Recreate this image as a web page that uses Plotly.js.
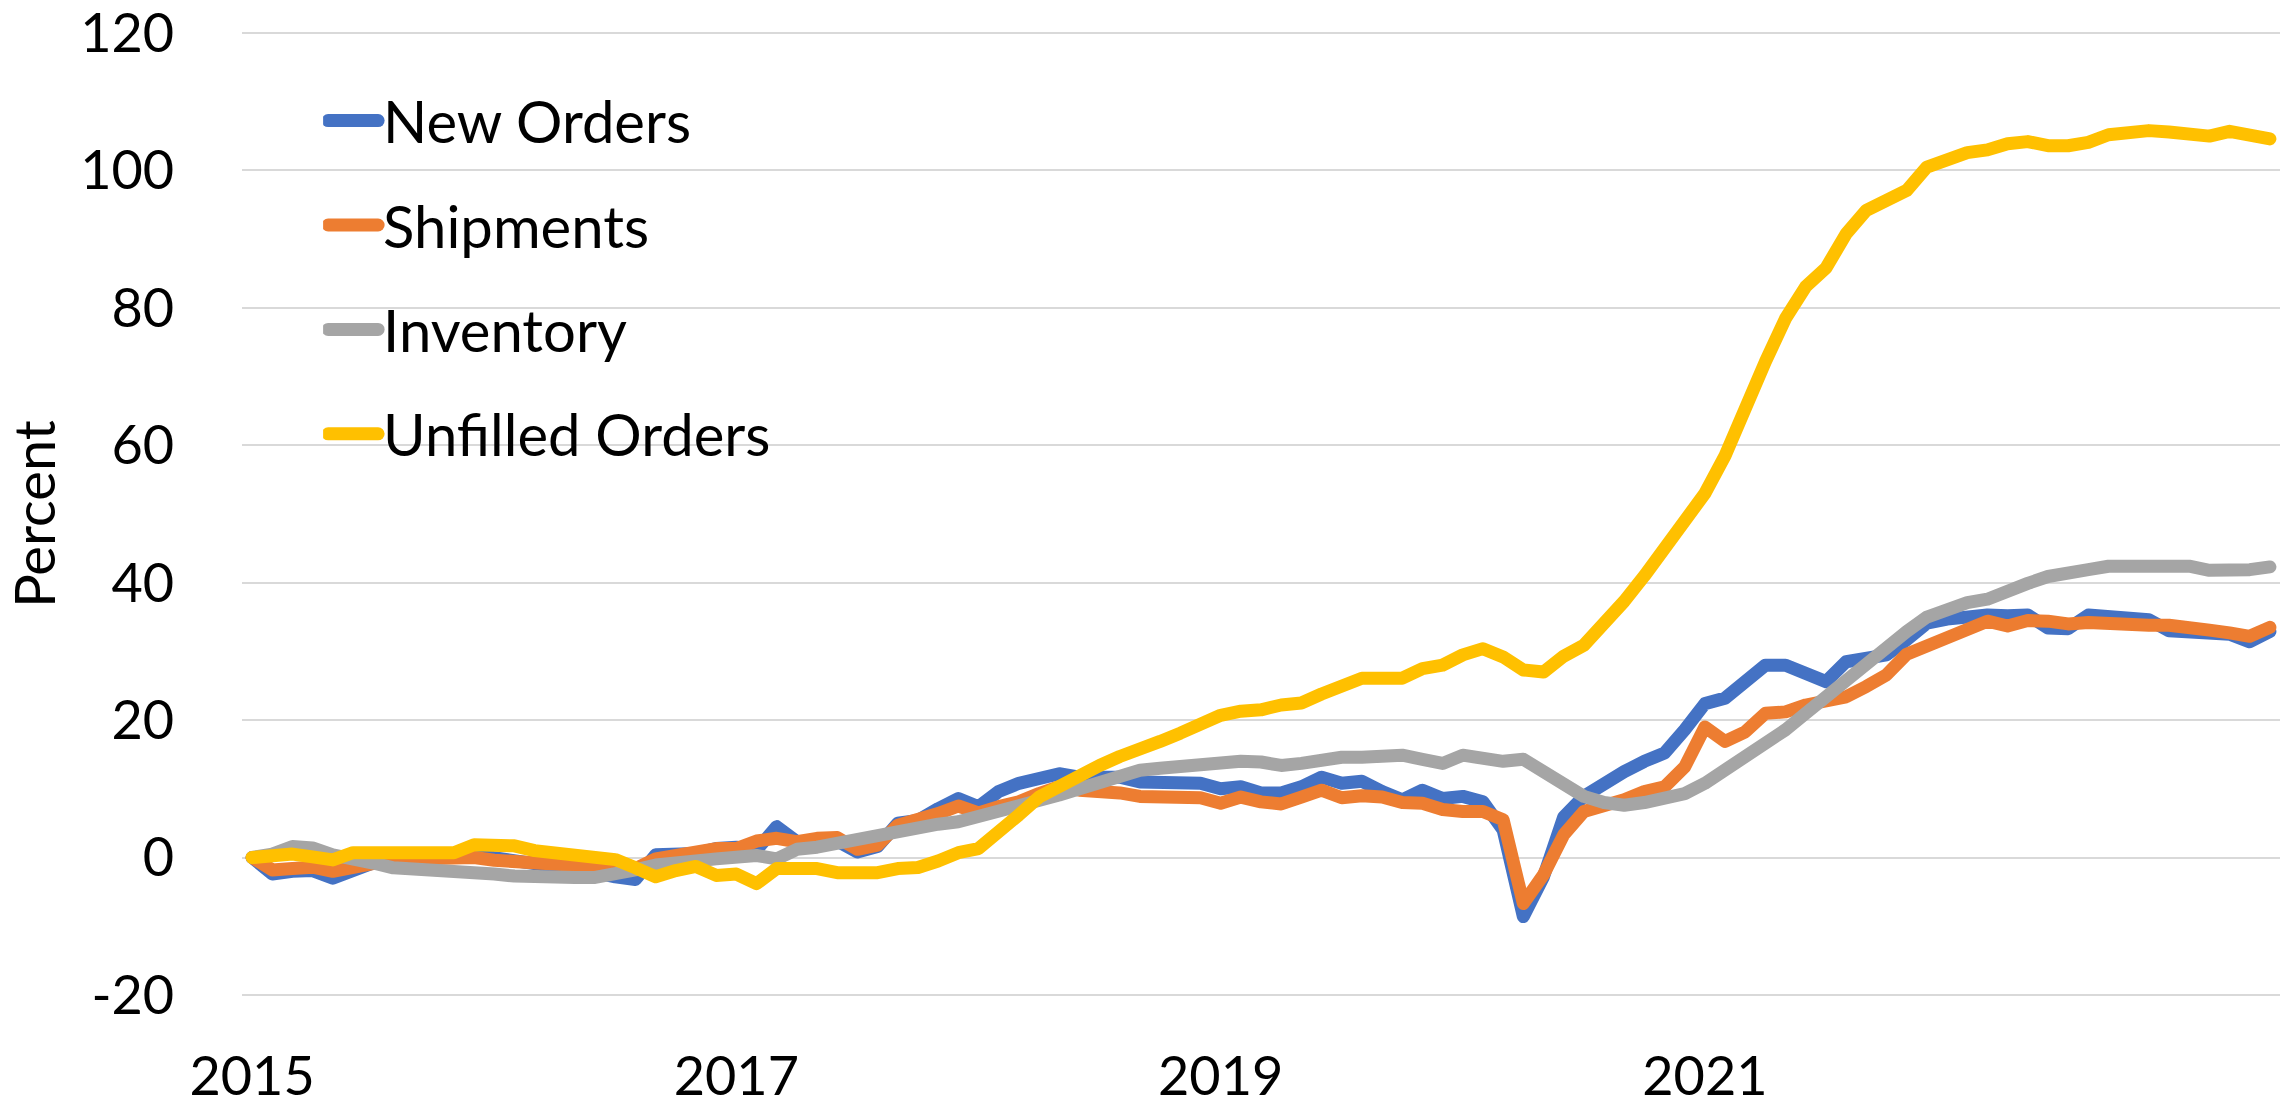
<!DOCTYPE html>
<html>
<head>
<meta charset="utf-8">
<script src="https://cdn.plot.ly/plotly-3.0.1.min.js"></script>
<style>
  html, body { margin: 0; padding: 0; background: #fff; }
  #chart { width: 2280px; height: 1106px; }
  .scatterlayer .js-line { stroke-linejoin: round; stroke-linecap: round; }
  .legend .js-line { stroke-width: 13px !important; stroke-linecap: round; }
</style>
</head>
<body>
<div id="chart"></div>
<script>
// Monthly categories: January 2015 through May 2023
const startYear = 2015;
const monthCount = 101;

const newOrders = [
  0, -2.4, -2.0, -1.9, -3.0, -1.8, -0.8, -0.5, -0.4, -0.2,
  0.2, 0.4, 0.0, -0.3, -0.6, -1.0, -1.6, -2.2, -2.8, -3.2,
  0.4, 0.6, 0.6, 1.3, 1.5, 1.1, 4.5, 2.3, 2.5, 2.4,
  0.8, 1.6, 5.0, 5.4, 7.1, 8.6, 7.4, 9.6, 10.8, 11.6,
  12.2, 11.7, 11.5, 11.7, 11.0, 11.0, 10.8, 10.8, 10.0, 10.3,
  9.4, 9.4, 10.3, 11.7, 10.8, 11.1, 9.6, 8.4, 9.8, 8.6,
  8.9, 8.1, 4.0, -8.6, -2.8, 5.9, 8.9, 10.8, 12.5, 14.0,
  15.2, 18.6, 22.4, 23.2, 25.6, 28.0, 28.0, 26.8, 25.6, 28.5,
  29.0, 29.5, 31.7, 34.1, 34.7, 35.1, 35.3, 35.2, 35.3, 33.4,
  33.3, 35.3, 35.0, 34.6, 34.6, 33.0, 32.7, 32.4, 32.5, 31.4,
  32.9
];

const shipments = [
  0, -1.8, -1.6, -1.4, -2.0, -1.4, -0.6, -0.3, -0.2, -0.1,
  0.1, 0.0, -0.4, -0.5, -0.7, -0.9, -1.1, -1.3, -1.5, -1.6,
  -0.2, 0.4, 0.6, 1.3, 1.3, 2.4, 2.8, 2.3, 2.8, 2.9,
  1.2, 1.8, 4.7, 5.4, 6.4, 7.5, 6.5, 7.4, 8.1, 9.3,
  10.3, 9.8, 9.8, 9.4, 8.9, 8.9, 8.7, 8.7, 7.9, 8.8,
  8.1, 7.8, 8.8, 9.8, 8.7, 9.0, 8.8, 8.0, 7.9, 7.0,
  6.7, 6.7, 5.5, -6.7, -2.5, 3.3, 6.7, 7.4, 8.4, 9.6,
  10.3, 13.2, 19.0, 16.9, 18.3, 21.0, 21.2, 22.2, 22.9, 23.4,
  24.9, 26.6, 29.6, 30.8, 32.3, 33.4, 34.4, 33.7, 34.5, 34.4,
  34.0, 34.2, 34.0, 33.6, 33.8, 33.8, 33.6, 33.1, 32.7, 32.2,
  33.5
];

const inventory = [
  0, 0.5, 1.6, 1.4, 0.4, 0.0, -0.8, -1.5, -1.6, -1.9,
  -2.1, -2.1, -2.4, -2.7, -2.9, -3.1, -2.9, -2.9, -2.5, -1.8,
  -1.1, -0.6, -0.5, -0.2, 0.1, 0.3, -0.2, 1.2, 1.5, 2.1,
  2.7, 3.4, 3.9, 4.2, 4.85, 5.2, 5.9, 6.65, 7.4, 8.1,
  9.1, 10.0, 10.8, 11.7, 12.7, 13.0, 13.2, 13.4, 14.0, 14.0,
  13.9, 13.4, 13.7, 14.2, 14.6, 14.6, 14.6, 14.9, 14.3, 13.7,
  14.9, 14.3, 14.0, 14.3, 12.6, 11.0, 8.9, 8.0, 7.6, 8.0,
  8.5, 9.3, 10.8, 12.7, 14.9, 16.6, 18.6, 21.0, 23.4, 25.7,
  28.3, 30.9, 32.9, 35.0, 36.2, 37.1, 37.6, 38.9, 39.9, 40.9,
  41.6, 41.9, 42.4, 42.4, 42.6, 42.7, 42.4, 41.8, 41.8, 41.9,
  42.3
];

const unfilledOrders = [
  0, 0.3, 0.5, 0.1, -0.35, 0.7, 0.7, 0.9, 1.1, 0.9,
  0.7, 1.85, 1.8, 1.7, 1.0, 0.6, 0.4, 0.2, -0.3, -1.5,
  -2.8, -1.9, -1.3, -2.6, -2.4, -3.8, -1.6, -1.6, -1.6, -2.2,
  -2.2, -2.2, -1.6, -1.45, -0.5, 0.7, 1.3, 3.5, 6.2, 8.8,
  10.5, 12.0, 13.4, 14.7, 15.6, 16.9, 18.1, 19.3, 20.7, 21.3,
  21.5, 22.2, 22.5, 23.8, 24.9, 26.1, 26.1, 26.1, 27.5, 28.0,
  29.5, 30.4, 29.2, 27.3, 27.0, 29.3, 30.9, 33.8, 37.3, 41.0,
  45.0, 49.2, 53.0, 58.5, 65.7, 72.2, 78.5, 83.1, 85.8, 90.8,
  94.2, 95.9, 97.1, 100.5, 101.6, 102.6, 103.0, 103.9, 104.2, 103.6,
  103.6, 104.1, 105.2, 105.5, 105.8, 105.6, 105.2, 105.0, 105.7, 105.0,
  104.6
];

const seriesNames = ['New Orders', 'Shipments', 'Inventory', 'Unfilled Orders'];
const seriesColors = ['#4472C4', '#ED7D31', '#A5A5A5', '#FFC000'];
const tickYears = ['2015', '2017', '2019', '2021'];
const yTickVals = [-20, 0, 20, 40, 60, 80, 100, 120];
const yTickText = ['-20', '0', '20', '40', '60', '80', '100', '120'];

const months = [];
for (let k = 0; k < monthCount; k++) {
  const y = startYear + Math.floor(k / 12);
  const m = (k % 12) + 1;
  months.push(y + '-' + String(m).padStart(2, '0'));
}
const tickVals = tickYears.map(y => y + '-01');

const allSeries = [newOrders, shipments, inventory, unfilledOrders];
const traces = allSeries.map((vals, s) => ({
  type: 'scatter',
  mode: 'lines',
  name: seriesNames[s],
  legendgroup: 'g' + s,
  x: months,
  y: vals,
  line: { color: seriesColors[s], width: 13 },
  hoverinfo: 'skip'
}));

const layout = {
  width: 2280,
  height: 1106,
  margin: { l: 242, r: 0, t: 31, b: 109, pad: 0 },
  paper_bgcolor: '#ffffff',
  plot_bgcolor: '#ffffff',
  font: { family: 'Lato, sans-serif', size: 56, color: '#000000' },
  showlegend: true,
  legend: {
    x: 0.0398, y: 0.953, xanchor: 'left', yanchor: 'top',
    bgcolor: 'rgba(0,0,0,0)', borderwidth: 0,
    traceorder: 'grouped', tracegroupgap: 26,
    itemwidth: 50,
    font: { family: 'Lato, sans-serif', size: 58, color: '#000000' }
  },
  xaxis: {
    type: 'category',
    range: [-0.5, monthCount - 0.5],
    tickmode: 'array',
    tickvals: tickVals,
    ticktext: tickYears,
    showgrid: false,
    zeroline: false,
    showline: false,
    ticks: 'outside',
    ticklen: 32,
    tickcolor: 'rgba(0,0,0,0)',
    automargin: false,
    ticklabeloverflow: 'allow',
    tickfont: { family: 'Lato, sans-serif', size: 54, color: '#000000' }
  },
  yaxis: {
    range: [-20.3, 120.3],
    tickmode: 'array',
    tickvals: yTickVals,
    ticktext: yTickText,
    showgrid: true,
    gridcolor: '#d9d9d9',
    gridwidth: 2,
    zeroline: false,
    showline: false,
    ticks: 'outside',
    ticklen: 56,
    tickcolor: 'rgba(0,0,0,0)',
    automargin: true,
    ticklabeloverflow: 'allow',
    tickfont: { family: 'Lato, sans-serif', size: 54, color: '#000000' },
    title: { text: 'Percent', standoff: 12, font: { family: 'Lato, sans-serif', size: 56, color: '#000000' } }
  }
};

Plotly.newPlot('chart', traces, layout, { displayModeBar: false, staticPlot: true });
</script>
</body>
</html>
